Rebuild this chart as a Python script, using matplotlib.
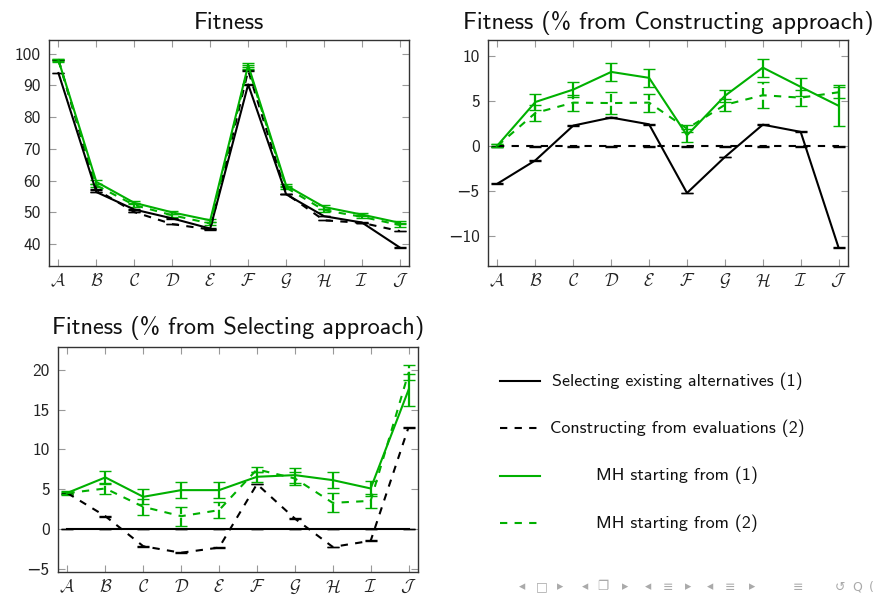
import matplotlib.pyplot as plt

plt.rcParams['font.family'] = ['cmss10', 'DejaVu Sans']
plt.rcParams['mathtext.fontset'] = 'cm'
plt.rcParams['axes.unicode_minus'] = True

letters = ['A', 'B', 'C', 'D', 'E', 'F', 'G', 'H', 'I', 'J']
xlabels = [r'$\mathcal{%s}$' % c for c in letters]
x = list(range(len(letters)))

# Fitness (absolute)
fit_sel = [93.9, 56.4, 50.9, 48.1, 44.9, 90.3, 55.7, 48.8, 46.8, 38.9]
fit_con = [98.1, 57.2, 50.1, 46.3, 44.6, 94.7, 55.9, 47.5, 46.7, 44.1]
fit_mh1 = [98.0, 59.6, 53.0, 50.0, 47.5, 96.4, 58.5, 51.7, 49.3, 46.7]
fit_mh2 = [97.9, 58.5, 52.3, 49.1, 46.5, 95.8, 57.8, 50.7, 48.6, 46.0]
fit_sel_err = [0.05] * 10
fit_con_err = [0.05] * 10
fit_mh1_err = [0.4, 0.6, 0.5, 0.5, 0.5, 0.6, 0.5, 0.5, 0.5, 0.5]
fit_mh2_err = [0.4, 0.6, 0.5, 0.5, 0.5, 0.6, 0.5, 0.5, 0.5, 0.5]

# Fitness (% from Constructing approach)
pc_sel = [-4.15, -1.56, 2.3, 3.19, 2.44, -5.19, -1.19, 2.4, 1.6, -11.26]
pc_con = [0, 0, 0, 0, 0, 0, 0, 0, 0, 0]
pc_mh1 = [0.1, 4.92, 6.3, 8.26, 7.6, 1.22, 5.6, 8.74, 6.6, 4.5]
pc_mh2 = [0.05, 3.7, 4.85, 4.8, 4.85, 1.96, 4.6, 5.67, 5.4, 6.0]
pc_sel_err = [0.05] * 10
pc_con_err = [0.05] * 10
pc_mh1_err = [0.2, 0.85, 0.8, 1.03, 1.0, 0.75, 0.65, 1.0, 1.0, 2.3]
pc_mh2_err = [0.15, 0.9, 0.9, 1.2, 1.0, 0.35, 0.7, 1.45, 0.9, 0.6]

# Fitness (% from Selecting approach)
ps_sel = [0, 0, 0, 0, 0, 0, 0, 0, 0, 0]
ps_con = [4.5, 1.6, -2.18, -3.0, -2.35, 5.64, 1.3, -2.27, -1.5, 12.8]
ps_mh1 = [4.54, 6.48, 4.04, 4.88, 4.88, 6.56, 6.77, 6.14, 5.09, 17.5]
ps_mh2 = [4.5, 5.09, 2.78, 1.6, 2.36, 7.49, 6.35, 3.28, 3.53, 19.65]
ps_sel_err = [0.05] * 10
ps_con_err = [0.05] * 10
ps_mh1_err = [0.2, 0.85, 0.95, 1.0, 1.0, 0.6, 0.95, 1.0, 0.95, 2.05]
ps_mh2_err = [0.2, 0.7, 1.0, 1.2, 1.05, 0.35, 0.8, 1.2, 0.85, 0.95]

legend_labels = ['Selecting existing alternatives (1)',
                 'Constructing from evaluations (2)',
                 'MH starting from (1)',
                 'MH starting from (2)']

GREEN = '#00b000'
DASH = (0, (3.5, 3.5))
styles = [('black', '-'), ('black', DASH), (GREEN, '-'), (GREEN, DASH)]

fig = plt.figure(figsize=(8.76, 5.95), dpi=100)


def panel(rect, title, series, errs, ylim, yticks, title_pad):
    ax = fig.add_axes(rect)
    for ys, es, (col, ls) in zip(series, errs, styles):
        eb = ax.errorbar(x, ys, yerr=es, color=col, linestyle=ls, linewidth=1.5,
                         elinewidth=1.6, capsize=4, capthick=1.0)
        if ls != '-':
            eb[2][0].set_linestyle('--')
    ax.set_xlim(-0.25, 9.25)
    ax.set_ylim(*ylim)
    ax.set_xticks(x)
    ax.set_xticklabels(xlabels, fontsize=15)
    ax.set_yticks(yticks)
    ax.tick_params(direction='in', top=True, right=True, length=5, width=0.8,
                   color='#999999', labelsize=12.5, labelcolor='#222222')
    ax.tick_params(axis='x', pad=4)
    ax.tick_params(axis='y', pad=6)
    for sp in ax.spines.values():
        sp.set_color('#333333')
        sp.set_linewidth(1.0)
    ax.set_title(title, fontsize=17.5, pad=title_pad, color='#111111')
    return ax


panel([0.0559, 0.5529, 0.4115, 0.3798], 'Fitness',
      [fit_sel, fit_con, fit_mh1, fit_mh2],
      [fit_sel_err, fit_con_err, fit_mh1_err, fit_mh2_err],
      (33.1, 104.3), range(40, 101, 10), 7.7)

panel([0.5571, 0.5529, 0.411, 0.3798], 'Fitness (% from Constructing approach)',
      [pc_sel, pc_con, pc_mh1, pc_mh2],
      [pc_sel_err, pc_con_err, pc_mh1_err, pc_mh2_err],
      (-13.3, 11.8), [-10, -5, 0, 5, 10], 7.7)

panel([0.0662, 0.0387, 0.411, 0.3782], 'Fitness (% from Selecting approach)',
      [ps_sel, ps_con, ps_mh1, ps_mh2],
      [ps_sel_err, ps_con_err, ps_mh1_err, ps_mh2_err],
      (-5.42, 22.9), [-5, 0, 5, 10, 15, 20], 9.5)

# legend block and beamer navigation symbols, in pixel coordinates
lax = fig.add_axes([0, 0, 1, 1])
lax.set_xlim(0, 876)
lax.set_ylim(595, 0)
lax.axis('off')
for i, (lab, (col, ls)) in enumerate(zip(legend_labels, styles)):
    yy = 381 + i * 47.3
    lax.plot([500, 540], [yy, yy], color=col, linestyle=ls, linewidth=1.5)
    lax.text(677, yy, lab, ha='center', va='center', fontsize=13, color='#111111')

nav = [(521.7, '◂'), (541.7, '□'), (560, '▸'), (585, '◂'), (603.3, '❐'), (625, '▸'),
       (648.3, '◂'), (668.3, '≡'), (688.3, '▸'), (710, '◂'), (730, '≡'), (751.7, '▸'),
       (798.3, '≡'), (840, '↺'), (856.7, 'Q'), (871.7, '(')]
for nx, ch in nav:
    lax.text(nx, 587, ch, ha='center', va='center', fontsize=9, color='#aaaaaa',
             family='DejaVu Sans')

fig.savefig('out.png', dpi=100)
